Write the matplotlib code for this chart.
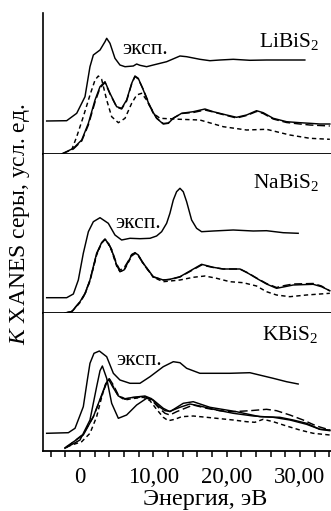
import matplotlib
matplotlib.use("Agg")
import matplotlib.pyplot as plt

plt.rcParams['font.family'] = ['Liberation Serif', 'DejaVu Serif']
plt.rcParams['mathtext.fontset'] = 'custom'
plt.rcParams['mathtext.rm'] = 'Liberation Serif'
plt.rcParams['mathtext.it'] = 'Liberation Serif:italic'

# ---------------- data (energy, eV ; intensity, arb. units) ----------------
# Panel 1: LiBiS2
li_exp_e = [-4.55, -1.82, -0.45, 0.68, 1.36, 1.82, 2.73, 3.41, 3.64, 4.09, 4.77, 5.45, 6.14, 7.27,
            7.73, 8.18, 9.09, 10.0, 11.82, 13.64, 14.55, 16.36, 17.73, 19.09, 20.91, 23.18, 25.45, 30.68]
li_exp_i = [33, 33.3, 40.7, 57.3, 87.3, 99, 104, 112.3, 115.7, 110.7, 95.7, 89, 87.3, 88,
            90, 88.7, 87.3, 89, 92.3, 98, 97.3, 94.7, 93.3, 94, 94.7, 93.7, 94, 94]
li_th_e = [-2.5, -0.91, 0.23, 1.14, 2.05, 2.73, 3.41, 4.09, 5.0, 5.68, 6.36, 7.05, 7.5, 7.95, 8.64,
           9.55, 10.45, 11.36, 12.05, 12.73, 13.86, 15.45, 17.05, 18.18, 20.0, 21.36, 22.73, 24.09,
           25.0, 26.36, 28.18, 30.0, 31.36, 32.73, 34.09]
li_th1_i = [0, 5.7, 14, 30.7, 54, 67.3, 72.3, 60.7, 47.3, 45.7, 54, 70.7, 78, 75.7, 64,
            47.3, 35.7, 30, 30.7, 35.7, 40.7, 42.3, 45, 42.3, 39, 36.7, 39, 43.3,
            41.3, 35.7, 32.3, 31.3, 30.7, 30, 30]
li_th2_i = [0, 5, 13, 29, 52, 66, 71.5, 60, 47, 45, 53, 70, 77.5, 75, 64.5,
            48, 36, 30.5, 31, 36, 40.5, 41.5, 44, 42, 38.5, 36, 38.5, 42.5,
            40.5, 35, 31.5, 30, 29, 28.5, 28]
li_th3_e = [-1.14, -0.45, 0.45, 1.36, 2.05, 2.5, 2.95, 3.64, 4.32, 5.23, 6.14, 7.05, 7.73, 8.41,
            9.09, 10.0, 10.91, 13.64, 16.36, 19.55, 22.73, 25.45, 28.64, 31.36, 34.09]
li_th3_i = [4, 17.3, 37.3, 59, 74, 78, 74.7, 54, 37.3, 31.3, 35.7, 50.7, 59, 60.7,
            54, 40.7, 35.7, 34.7, 34, 27.3, 24, 24.7, 19, 15.7, 14.7]

# Panel 2: NaBiS2
na_exp_e = [-4.55, -1.82, -0.91, -0.23, 0.45, 1.14, 1.82, 2.73, 3.86, 4.77, 5.68, 6.82, 8.18, 9.55,
            10.45, 11.14, 11.82, 12.27, 12.73, 13.18, 13.64, 14.09, 14.55, 15.23, 15.91, 16.59,
            18.18, 20.91, 23.64, 25.45, 27.73, 29.77]
na_exp_i = [15.3, 15.3, 19, 33, 59.7, 81.3, 91.3, 95.3, 89.7, 78, 73, 74.7, 74.3, 74.7,
            77, 81.3, 89.7, 99.7, 113, 121.3, 124.7, 121.3, 111.3, 93, 84.7, 81.3,
            82, 83, 82, 82.3, 80.3, 79.7]
na_th_e = [-2.05, -1.14, 0, 0.68, 1.36, 2.27, 2.95, 3.41, 3.86, 4.32, 5.0, 5.45, 6.0, 6.59, 7.05,
           7.5, 7.95, 8.64, 10.0, 11.36, 12.27, 13.64, 15.0, 16.59, 18.18, 19.55, 21.82, 22.95,
           24.09, 25.45, 26.82, 27.95, 29.09, 31.82, 32.95, 34.09]
na_th1_i = [0, 1.3, 11.3, 19.7, 33, 59.7, 70.3, 73.7, 69.7, 63, 48, 41.3, 43, 51.3, 58,
            60.3, 58, 49.7, 36.3, 33, 33.7, 36.3, 42, 48.7, 45.7, 44, 44, 39.7,
            34.7, 29, 24.7, 26.3, 28, 28.7, 26.3, 22.3]
na_th2_i = [0, 1.5, 11, 19, 32.5, 59, 70, 74, 70, 63.5, 49, 43, 45, 52, 58.5,
            60, 57.5, 49, 36, 33, 33.5, 36, 41.5, 48, 45.5, 44, 44, 40,
            35, 29.5, 25.5, 27.5, 29, 29.5, 27, 22]
na_th3_e = [-2.05, -1.14, 0, 0.68, 1.36, 2.27, 2.95, 3.41, 3.86, 4.32, 5.0, 5.45, 6.0, 6.59, 7.05,
            7.5, 7.95, 8.64, 10.0, 11.36, 13.64, 15.45, 17.05, 18.64, 20.45, 22.27, 24.09, 25.45,
            26.82, 28.64, 30.91, 34.09]
na_th3_i = [0, 1, 10.5, 19, 32, 58, 70, 73.5, 69, 62, 47, 41.5, 42.5, 50.5, 57,
            59.5, 57.5, 49.5, 35.7, 31.3, 33, 35.7, 37, 34.7, 31.3, 30.3, 27, 21.3,
            18, 16.3, 18, 19.7]

# Panel 3: KBiS2
k_exp_e = [-4.55, -1.59, -0.68, 0.45, 1.0, 1.36, 1.91, 2.64, 3.64, 4.55, 5.45, 6.82, 8.18, 9.55,
           11.36, 12.73, 13.64, 14.55, 16.36, 20.45, 23.18, 26.36, 28.18, 29.77]
k_exp_i = [17.7, 18.3, 22.7, 44.3, 71, 87.7, 97.7, 100, 94.3, 77.7, 71, 67.7, 67.7, 74.3,
           84.3, 89.3, 88.3, 82.7, 77.7, 77.7, 78.3, 72.7, 69.3, 67]
k_th1_e = [-2.05, 0, 1.36, 2.27, 2.73, 3.05, 3.64, 4.32, 5.23, 6.36, 7.73, 9.09, 10.0, 11.36,
           12.27, 14.09, 15.45, 17.73, 21.36, 24.55, 27.27, 29.09, 30.91, 32.73, 34.09]
k_th1_i = [2.7, 11, 31, 64.3, 80.3, 85, 72.7, 47.7, 32.7, 36, 46, 52.7, 51, 42.7,
           39.3, 47.7, 49.3, 43.7, 39.3, 34.3, 33.7, 31, 27.7, 21.7, 21]
k_th2_e = [-2.05, 0.45, 1.82, 2.95, 3.55, 3.91, 4.45, 5.23, 6.14, 7.27, 8.86, 9.77, 10.68, 11.59,
           12.27, 13.64, 15.0, 16.36, 18.64, 20.91, 23.64, 26.36, 28.64, 30.91, 32.73, 34.09]
k_th2_i = [3.3, 16, 34.3, 56, 67.7, 71.7, 64.3, 55, 52.3, 53.7, 55, 52.3, 45, 40.3,
           39.7, 43.7, 47, 45, 41, 37.7, 35, 33.7, 31, 26.7, 21.7, 20.3]
k_th3_e = [-1.82, 0.45, 1.82, 2.95, 3.64, 4.0, 4.55, 5.23, 6.14, 7.05, 8.86, 9.77, 10.68, 11.59,
           12.27, 13.18, 14.32, 15.45, 17.27, 19.09, 20.91, 23.18, 25.45, 26.82, 28.64, 30.45,
           32.27, 34.09]
k_th3_i = [3.7, 17, 34.3, 55, 68.3, 72.3, 66, 56, 51.7, 53.3, 54.3, 51, 43.7, 37.7,
           36, 39.3, 42.7, 46, 42.7, 40.3, 39.3, 40.3, 41.7, 40.3, 36, 31, 25, 21]
k_th4_e = [-1.82, 0.23, 1.36, 2.27, 2.95, 3.55, 4.0, 4.55, 5.23, 6.14, 7.05, 8.64, 9.55, 10.45,
           11.36, 12.05, 12.95, 13.86, 15.45, 17.27, 20.91, 22.73, 23.86, 25.0, 26.36, 28.18,
           30.0, 31.82, 34.09]
k_th4_i = [4.3, 9.3, 17.7, 34.3, 53.7, 68.3, 71.7, 64.3, 55, 51, 52.3, 53.7, 50.3, 41.7,
           33.7, 30.3, 31.7, 34.3, 35, 33.7, 31, 29.3, 28.7, 31.7, 29.3, 25, 21, 17.7, 16]

compounds = ["LiBiS$_2$", "NaBiS$_2$", "KBiS$_2$"]
x_tick_values = [0, 10, 20, 30]
x_tick_labels = ["0", "10,00", "20,00", "30,00"]
exp_label = "эксп."
x_title = "Энергия, эВ"
y_title = "$\\it{K}$ XANES серы, усл. ед."

# ---------------- figure ----------------
W, H = 331, 511
fig = plt.figure(figsize=(W / 100, H / 100), dpi=100)
left = 43 / W
width = 1 - left
panel_px = [(13, 154), (154, 313), (313, 451)]
ylims = [141, 159, 138]
axes = []
for (top, bot) in panel_px:
    ax = fig.add_axes([left, 1 - bot / H, width, (bot - top) / H])
    axes.append(ax)

short_dash = (0, (3.0, 2.2))
long_dash = (0, (5.5, 2.5))
lw = 1.05
col = 'black'

panels = [
    dict(exp=(li_exp_e, li_exp_i),
         th=[(li_th_e, li_th1_i, '-'), (li_th_e, li_th2_i, long_dash), (li_th3_e, li_th3_i, short_dash)],
         exp_pos=(8.9, 104), name_pos=(32.6, 107)),
    dict(exp=(na_exp_e, na_exp_i),
         th=[(na_th_e, na_th1_i, '-'), (na_th_e, na_th2_i, long_dash), (na_th3_e, na_th3_i, short_dash)],
         exp_pos=(7.9, 90), name_pos=(32.6, 125)),
    dict(exp=(k_exp_e, k_exp_i),
         th=[(k_th1_e, k_th1_i, '-'), (k_th2_e, k_th2_i, '-'), (k_th3_e, k_th3_i, long_dash),
             (k_th4_e, k_th4_i, short_dash)],
         exp_pos=(8.1, 91), name_pos=(32.6, 111)),
]

for i, (ax, p) in enumerate(zip(axes, panels)):
    ax.plot(p['exp'][0], p['exp'][1], color=col, lw=lw)
    for e, v, ls in p['th']:
        ax.plot(e, v, color=col, lw=lw, linestyle=ls)
    ax.set_xlim(-5.05, 34.25)
    ax.set_ylim(0, ylims[i])
    ax.text(p['exp_pos'][0], p['exp_pos'][1], exp_label, fontsize=15.5, ha='center', va='center')
    ax.text(p['name_pos'][0], p['name_pos'][1], compounds[i], fontsize=15.5, ha='right',
            va='baseline')
    for s in ['top', 'right']:
        ax.spines[s].set_visible(False)
    ax.spines['left'].set_linewidth(1.2)
    ax.spines['bottom'].set_linewidth(1.3)
    ax.set_yticks([])
    if i < 2:
        ax.set_xticks([])
    else:
        ax.set_xticks(range(-4, 35, 2))
        ax.set_xticklabels([x_tick_labels[x_tick_values.index(t)] if t in x_tick_values else ''
                            for t in range(-4, 35, 2)])
        ax.tick_params(axis='x', direction='out', length=4, width=1.1, pad=7.5, labelsize=16.5)

fig.text(205 / W, 1 - 505 / H, x_title, ha='center', va='baseline', fontsize=17.5)
fig.text(20 / W, 1 - 224 / H, y_title, rotation=90, ha='center', va='center', fontsize=17)

fig.savefig("out.png", dpi=100)
